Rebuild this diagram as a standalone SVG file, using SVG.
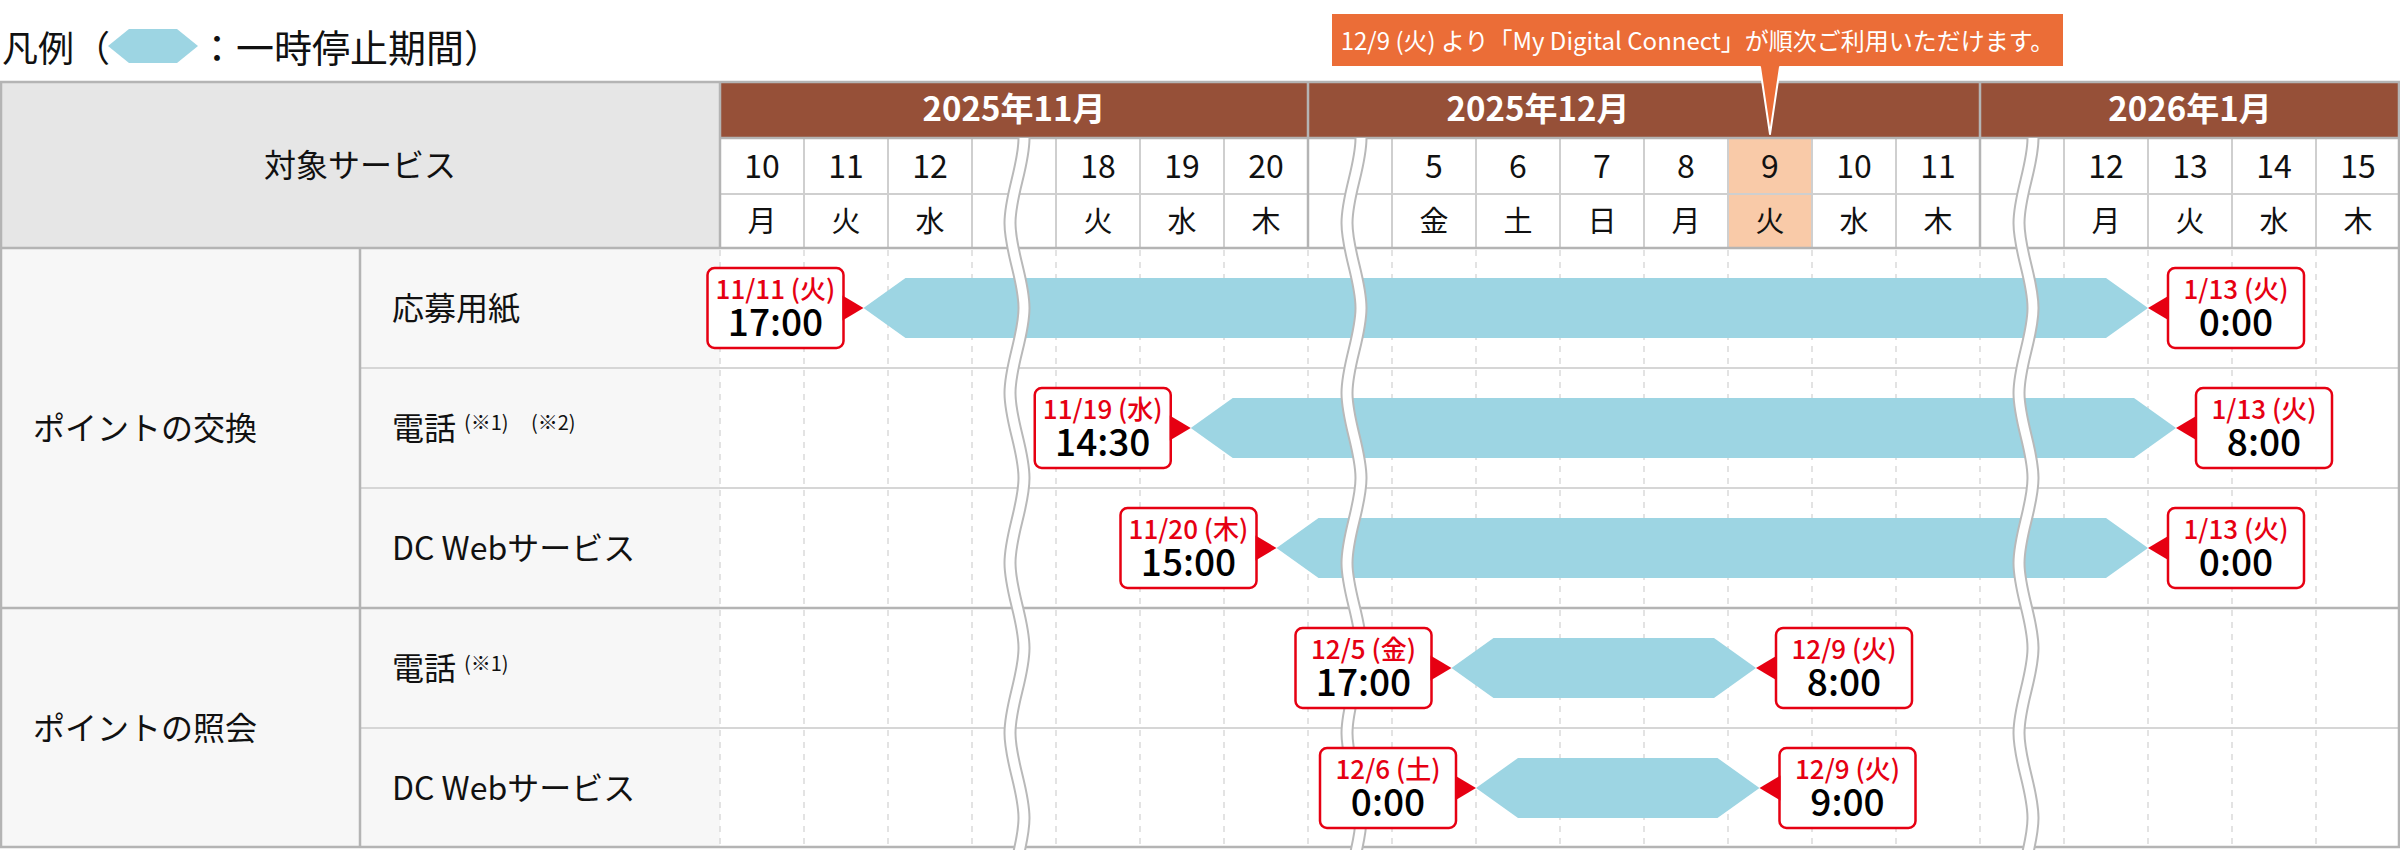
<svg xmlns="http://www.w3.org/2000/svg" xmlns:xlink="http://www.w3.org/1999/xlink" width="2400" height="850" viewBox="0 0 2400 850">
<style>
text{font-family:'Noto Sans CJK JP','Noto Sans',sans-serif;}
.lbl{font-size:32px;fill:#111}
.sup{font-size:20px;fill:#111}
.date{font-size:32px;fill:#111;text-anchor:middle}
.day{font-size:29px;fill:#111;text-anchor:middle}
.month{font-size:33px;font-weight:700;fill:#fff;text-anchor:middle}
.cbox{fill:#fff;stroke:#e60012;stroke-width:2.5}
.ptr{fill:#e60012}
.cd{font-size:26px;fill:#e60012;text-anchor:middle;font-weight:500}
.ct{font-size:37px;fill:#000;text-anchor:middle;font-weight:500}
.bar{fill:#9dd5e3}
.dash{stroke:#dadada;stroke-width:1.5;stroke-dasharray:6 6}
.hl{stroke:#cfcfcf;stroke-width:2}
.rl{stroke:#d6d6d6;stroke-width:2}
.bl{stroke:#b4b4b4;stroke-width:2.5}
.wo{fill:none;stroke:#b9b9b9;stroke-width:13}
.wi{fill:none;stroke:#fff;stroke-width:9}
</style>
<defs>
<path id="wv" d="M7,138 C7,166.3 -7,194.7 -7,223 S7,279.7 7,308 S-7,364.7 -7,393 S7,449.7 7,478 S-7,534.7 -7,563 S7,619.7 7,648 S-7,704.7 -7,733 S7,789.7 7,818 S-7,874.7 -7,903"/>
</defs>

<g id="legend">
<text x="2" y="62" style="font-size:36px;fill:#111">凡例（</text>
<polygon class="bar" points="108,46 129,29 177,29 198,46 177,63 129,63"/>
<text x="198" y="62" style="font-size:38px;fill:#111">：一時停止期間）</text>
</g>

<g id="table-background">
<rect x="0" y="81" width="720" height="167" fill="#e6e6e6"/>
<rect x="720" y="81" width="1680" height="57" fill="#965038"/>
<rect x="720" y="138" width="1680" height="110" fill="#fff"/>
<rect x="1728" y="138" width="84" height="110" fill="#f9caa8"/>
<rect x="0" y="248" width="720" height="600" fill="#f7f7f7"/>
<rect x="720" y="248" width="1680" height="600" fill="#fff"/>
</g>

<g id="grid">
<g class="hl">
<line x1="804" y1="138" x2="804" y2="248"/><line x1="888" y1="138" x2="888" y2="248"/><line x1="972" y1="138" x2="972" y2="248"/><line x1="1056" y1="138" x2="1056" y2="248"/><line x1="1140" y1="138" x2="1140" y2="248"/><line x1="1224" y1="138" x2="1224" y2="248"/>
<line x1="1392" y1="138" x2="1392" y2="248"/><line x1="1476" y1="138" x2="1476" y2="248"/><line x1="1560" y1="138" x2="1560" y2="248"/><line x1="1644" y1="138" x2="1644" y2="248"/><line x1="1728" y1="138" x2="1728" y2="248"/><line x1="1812" y1="138" x2="1812" y2="248"/><line x1="1896" y1="138" x2="1896" y2="248"/>
<line x1="2064" y1="138" x2="2064" y2="248"/><line x1="2148" y1="138" x2="2148" y2="248"/><line x1="2232" y1="138" x2="2232" y2="248"/><line x1="2316" y1="138" x2="2316" y2="248"/>
<line x1="720" y1="194" x2="2400" y2="194"/>
</g>
<g class="dash">
<line x1="720" y1="250" x2="720" y2="846"/><line x1="804" y1="250" x2="804" y2="846"/><line x1="888" y1="250" x2="888" y2="846"/><line x1="972" y1="250" x2="972" y2="846"/><line x1="1056" y1="250" x2="1056" y2="846"/><line x1="1140" y1="250" x2="1140" y2="846"/><line x1="1224" y1="250" x2="1224" y2="846"/><line x1="1308" y1="250" x2="1308" y2="846"/><line x1="1392" y1="250" x2="1392" y2="846"/><line x1="1476" y1="250" x2="1476" y2="846"/><line x1="1560" y1="250" x2="1560" y2="846"/><line x1="1644" y1="250" x2="1644" y2="846"/><line x1="1728" y1="250" x2="1728" y2="846"/><line x1="1812" y1="250" x2="1812" y2="846"/><line x1="1896" y1="250" x2="1896" y2="846"/><line x1="1980" y1="250" x2="1980" y2="846"/><line x1="2064" y1="250" x2="2064" y2="846"/><line x1="2148" y1="250" x2="2148" y2="846"/><line x1="2232" y1="250" x2="2232" y2="846"/><line x1="2316" y1="250" x2="2316" y2="846"/>
</g>
<g class="rl">
<line x1="360" y1="368" x2="2400" y2="368"/><line x1="360" y1="488" x2="2400" y2="488"/><line x1="360" y1="728" x2="2400" y2="728"/>
</g>
<g class="bl">
<line x1="0" y1="82" x2="2400" y2="82"/>
<line x1="720" y1="138" x2="2400" y2="138"/>
<line x1="0" y1="248" x2="2400" y2="248"/>
<line x1="0" y1="608" x2="2400" y2="608"/>
<line x1="0" y1="847" x2="2400" y2="847"/>
<line x1="1" y1="81" x2="1" y2="848"/>
<line x1="2399" y1="81" x2="2399" y2="848"/>
<line x1="720" y1="81" x2="720" y2="248"/>
<line x1="360" y1="248" x2="360" y2="848"/>
<line x1="1308" y1="81" x2="1308" y2="248"/>
<line x1="1980" y1="81" x2="1980" y2="248"/>
</g>
</g>

<g id="header">
<text class="lbl" x="360" y="177" text-anchor="middle">対象サービス</text>
<text class="month" x="1014" y="121">2025年11月</text>
<text class="month" x="1538" y="121">2025年12月</text>
<text class="month" x="2190" y="121">2026年1月</text>
<g class="date">
<text x="762" y="178">10</text><text x="846" y="178">11</text><text x="930" y="178">12</text>
<text x="1098" y="178">18</text><text x="1182" y="178">19</text><text x="1266" y="178">20</text>
<text x="1434" y="178">5</text><text x="1518" y="178">6</text><text x="1602" y="178">7</text><text x="1686" y="178">8</text><text x="1770" y="178">9</text><text x="1854" y="178">10</text><text x="1938" y="178">11</text>
<text x="2106" y="178">12</text><text x="2190" y="178">13</text><text x="2274" y="178">14</text><text x="2358" y="178">15</text>
</g>
<g class="day">
<text x="762" y="232">月</text><text x="846" y="232">火</text><text x="930" y="232">水</text>
<text x="1098" y="232">火</text><text x="1182" y="232">水</text><text x="1266" y="232">木</text>
<text x="1434" y="232">金</text><text x="1518" y="232">土</text><text x="1602" y="232">日</text><text x="1686" y="232">月</text><text x="1770" y="232">火</text><text x="1854" y="232">水</text><text x="1938" y="232">木</text>
<text x="2106" y="232">月</text><text x="2190" y="232">火</text><text x="2274" y="232">水</text><text x="2358" y="232">木</text>
</g>
</g>

<g id="row-labels">
<text class="lbl" x="33" y="440">ポイントの交換</text>
<text class="lbl" x="33" y="740">ポイントの照会</text>
<text class="lbl" x="392" y="320">応募用紙</text>
<text class="lbl" x="392" y="440">電話</text>
<text class="sup" x="464" y="430">(※1)</text>
<text class="sup" x="531" y="430">(※2)</text>
<text class="lbl" x="392" y="560">DC Webサービス</text>
<text class="lbl" x="392" y="680">電話</text>
<text class="sup" x="464" y="671">(※1)</text>
<text class="lbl" x="392" y="800">DC Webサービス</text>
</g>

<g id="bars">
<polygon id="bar-1" class="bar" points="863.5,308 905.5,278 2106,278 2148,308 2106,338 905.5,338"/>
<polygon id="bar-2" class="bar" points="1190.75,428 1232.75,398 2134,398 2176,428 2134,458 1232.75,458"/>
<polygon id="bar-3" class="bar" points="1276.5,548 1318.5,518 2106,518 2148,548 2106,578 1318.5,578"/>
<polygon id="bar-4" class="bar" points="1451.5,668 1493.5,638 1714,638 1756,668 1714,698 1493.5,698"/>
<polygon id="bar-5" class="bar" points="1476,788 1518,758 1717.5,758 1759.5,788 1717.5,818 1518,818"/>
</g>

<g id="connectors">
<use xlink:href="#wv" class="wo" x="1017"/><use xlink:href="#wv" class="wi" x="1017"/>
<use xlink:href="#wv" class="wo" x="1354"/><use xlink:href="#wv" class="wi" x="1354"/>
<use xlink:href="#wv" class="wo" x="2026"/><use xlink:href="#wv" class="wi" x="2026"/>
</g>

<g id="c1-start">
<rect class="cbox" x="707.5" y="268" width="136" height="80" rx="7"/>
<polygon class="ptr" points="842.5,295.5 863.5,308 842.5,320.5"/>
<text class="cd" x="775.5" y="299">11/11 (火)</text>
<text class="ct" x="775.5" y="336">17:00</text>
</g>
<g id="c1-end">
<rect class="cbox" x="2168" y="268" width="136" height="80" rx="7"/>
<polygon class="ptr" points="2169,295.5 2148,308 2169,320.5"/>
<text class="cd" x="2236" y="299">1/13 (火)</text>
<text class="ct" x="2236" y="336">0:00</text>
</g>
<g id="c2-start">
<rect class="cbox" x="1034.75" y="388" width="136" height="80" rx="7"/>
<polygon class="ptr" points="1169.75,415.5 1190.75,428 1169.75,440.5"/>
<text class="cd" x="1102.75" y="419">11/19 (水)</text>
<text class="ct" x="1102.75" y="456">14:30</text>
</g>
<g id="c2-end">
<rect class="cbox" x="2196" y="388" width="136" height="80" rx="7"/>
<polygon class="ptr" points="2197,415.5 2176,428 2197,440.5"/>
<text class="cd" x="2264" y="419">1/13 (火)</text>
<text class="ct" x="2264" y="456">8:00</text>
</g>
<g id="c3-start">
<rect class="cbox" x="1120.5" y="508" width="136" height="80" rx="7"/>
<polygon class="ptr" points="1255.5,535.5 1276.5,548 1255.5,560.5"/>
<text class="cd" x="1188.5" y="539">11/20 (木)</text>
<text class="ct" x="1188.5" y="576">15:00</text>
</g>
<g id="c3-end">
<rect class="cbox" x="2168" y="508" width="136" height="80" rx="7"/>
<polygon class="ptr" points="2169,535.5 2148,548 2169,560.5"/>
<text class="cd" x="2236" y="539">1/13 (火)</text>
<text class="ct" x="2236" y="576">0:00</text>
</g>
<g id="c4-start">
<rect class="cbox" x="1295.5" y="628" width="136" height="80" rx="7"/>
<polygon class="ptr" points="1430.5,655.5 1451.5,668 1430.5,680.5"/>
<text class="cd" x="1363.5" y="659">12/5 (金)</text>
<text class="ct" x="1363.5" y="696">17:00</text>
</g>
<g id="c4-end">
<rect class="cbox" x="1776" y="628" width="136" height="80" rx="7"/>
<polygon class="ptr" points="1777,655.5 1756,668 1777,680.5"/>
<text class="cd" x="1844" y="659">12/9 (火)</text>
<text class="ct" x="1844" y="696">8:00</text>
</g>
<g id="c5-start">
<rect class="cbox" x="1320" y="748" width="136" height="80" rx="7"/>
<polygon class="ptr" points="1455,775.5 1476,788 1455,800.5"/>
<text class="cd" x="1388" y="779">12/6 (土)</text>
<text class="ct" x="1388" y="816">0:00</text>
</g>
<g id="c5-end">
<rect class="cbox" x="1779.5" y="748" width="136" height="80" rx="7"/>
<polygon class="ptr" points="1780.5,775.5 1759.5,788 1780.5,800.5"/>
<text class="cd" x="1847.5" y="779">12/9 (火)</text>
<text class="ct" x="1847.5" y="816">9:00</text>
</g>

<g id="notice">
<path d="M1331,13 H2064 V67 H1780 L1770,134 L1760,67 H1331 Z" fill="#eb6d37" stroke="#fff" stroke-width="2" stroke-linejoin="round"/>
<text x="1697.5" y="50" text-anchor="middle" style="font-size:24px;fill:#fff">12/9 (火) より「My Digital Connect」が順次ご利用いただけます。</text>
</g>
</svg>
